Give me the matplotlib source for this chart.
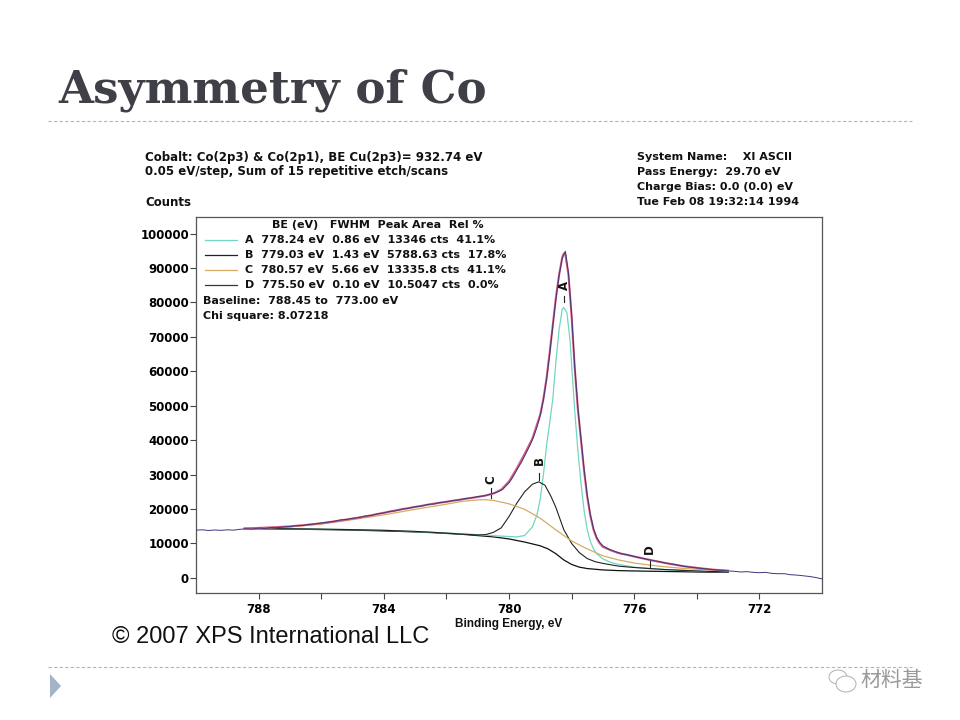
import numpy as np
import matplotlib.pyplot as plt
from matplotlib.ticker import MultipleLocator, FixedLocator
from matplotlib.patches import Polygon, Ellipse

# raw spectrum (binding energy, counts)
raw_be = [790.0, 789.8, 789.6, 789.4, 789.2, 789.0, 788.8, 788.6, 788.4, 788.2,
          788.0, 787.8, 787.6, 787.4, 787.2, 787.0, 786.8, 786.6, 786.4, 786.2,
          786.0, 785.8, 785.6, 785.4, 785.2, 785.0, 784.8, 784.6, 784.4, 784.2,
          784.0, 783.8, 783.6, 783.4, 783.2, 783.0, 782.8, 782.6, 782.4, 782.2,
          782.0, 781.8, 781.6, 781.4, 781.2, 781.0, 780.8, 780.6, 780.4, 780.2,
          780.0, 779.9, 779.8, 779.7, 779.6, 779.5, 779.4, 779.3, 779.2, 779.1,
          779.0, 778.9, 778.8, 778.7, 778.6, 778.5, 778.4, 778.3, 778.2, 778.1,
          778.0, 777.9, 777.8, 777.7, 777.6, 777.5, 777.4, 777.3, 777.2, 777.1,
          777.0, 776.8, 776.6, 776.4, 776.2, 776.0, 775.8, 775.6, 775.4, 775.2,
          775.0, 774.8, 774.6, 774.4, 774.2, 774.0, 773.8, 773.6, 773.4, 773.2,
          773.0, 772.8, 772.6, 772.4, 772.2, 772.0, 771.8, 771.6, 771.4, 771.2,
          771.0, 770.8, 770.6, 770.4, 770.2, 770.0]
raw_counts = [13850, 13950, 13750, 13900, 13800, 13950, 13850, 14100, 14250, 14150,
              14450, 14350, 14600, 14550, 14800, 14900, 15150, 15200, 15500, 15650,
              15950, 16150, 16400, 16800, 16950, 17300, 17500, 17950, 18100, 18600,
              18850, 19300, 19500, 19950, 20200, 20650, 20800, 21300, 21450, 21900,
              22050, 22450, 22600, 23050, 23200, 23600, 23800, 24300, 24800, 25700,
              27600, 28900, 30500, 32100, 33600, 35400, 37200, 39100, 41300, 44000,
              47200, 51800, 57600, 65000, 73200, 81000, 87800, 92800, 94900, 88500,
              76500, 61500, 49500, 40500, 31500, 24000, 18400, 14300, 11800, 10300,
              9300, 8300, 7600, 7000, 6700, 6200, 5800, 5400, 5000, 4700,
              4300, 4000, 3700, 3300, 3100, 2900, 2700, 2500, 2300, 2200,
              2000, 1900, 1700, 1800, 1600, 1500, 1600, 1300, 1200, 1200,
              900, 800, 600, 400, 100, -300]

# fitted envelope
fit_be = [788.45, 788.0, 787.5, 787.0, 786.5, 786.0, 785.5, 785.0, 784.5, 784.0,
          783.5, 783.0, 782.5, 782.0, 781.5, 781.0, 780.75, 780.5, 780.25, 780.0,
          779.75, 779.5, 779.25, 779.0, 778.9, 778.8, 778.7, 778.6, 778.5, 778.4,
          778.3, 778.25, 778.2, 778.1, 778.0, 777.9, 777.8, 777.7, 777.6, 777.5,
          777.4, 777.3, 777.2, 777.1, 777.0, 776.75, 776.5, 776.0, 775.5, 775.0,
          774.5, 774.0, 773.5, 773.0]
fit_counts = [14350, 14500, 14700, 14950, 15350, 15850, 16500, 17200, 18000, 18900,
              19800, 20600, 21400, 22100, 22800, 23500, 23900, 24500, 25600, 28000,
              31800, 36000, 40500, 47500, 52000, 58000, 65500, 73500, 81500, 88000,
              93000, 94200, 94000, 88000, 76000, 61000, 49000, 40000, 31000, 23500,
              18000, 14000, 11500, 10000, 9000, 8000, 7200, 6200, 5200, 4300,
              3500, 2900, 2400, 2100]

# Shirley baseline
bg_be = [788.45, 787.5, 786.5, 785.5, 784.5, 783.5, 782.5, 781.5, 780.5, 780.0,
         779.5, 779.0, 778.75, 778.5, 778.25, 778.0, 777.75, 777.5, 777.0, 776.5,
         776.0, 775.0, 774.0, 773.0]
bg_counts = [14300, 14200, 14100, 13950, 13750, 13500, 13150, 12650, 11900, 11300,
             10400, 9300, 8400, 7000, 5200, 3900, 3100, 2700, 2300, 2100,
             2000, 1850, 1700, 1600]

# component A
a_be = [788.45, 786.0, 784.0, 782.5, 781.5, 780.5, 780.0, 779.75, 779.5, 779.25,
        779.1, 779.0, 778.9, 778.8, 778.7, 778.6, 778.5, 778.4, 778.3, 778.25,
        778.15, 778.05, 778.0, 777.9, 777.8, 777.7, 777.6, 777.5, 777.4, 777.3,
        777.2, 777.0, 776.75, 776.5, 776.0, 775.5, 775.0, 774.0, 773.0]
a_counts = [14350, 14150, 13850, 13250, 12800, 12250, 12000, 11900, 12300, 14800,
            18500, 23000, 30000, 38500, 45000, 52000, 63000, 72000, 78000, 78500,
            77000, 69000, 62000, 48500, 37000, 27500, 19500, 14000, 10500, 8400,
            7000, 5500, 4500, 3900, 3100, 2700, 2400, 2000, 1700]

# component B
b_be = [788.45, 787.0, 786.0, 785.0, 784.0, 783.0, 782.0, 781.5, 781.0, 780.75,
        780.5, 780.25, 780.0, 779.75, 779.5, 779.25, 779.05, 778.85, 778.65, 778.5,
        778.25, 778.0, 777.75, 777.5, 777.25, 777.0, 776.5, 776.0, 775.5, 775.0,
        774.0, 773.0]
b_counts = [14350, 14250, 14150, 14000, 13800, 13500, 13000, 12700, 12450, 12550,
            13200, 14500, 17800, 21700, 25000, 27200, 27900, 26900, 23500, 20400,
            14000, 10000, 7300, 5600, 4700, 4200, 3400, 3000, 2700, 2400,
            2000, 1700]

# component C
c_be = [788.45, 788.0, 787.0, 786.0, 785.0, 784.0, 783.0, 782.0, 781.5, 781.0,
        780.75, 780.5, 780.0, 779.5, 779.0, 778.5, 778.0, 777.5, 777.0, 776.5,
        776.0, 775.5, 775.0, 774.5, 774.0, 773.5, 773.0]
c_counts = [14300, 14400, 14800, 15600, 16900, 18300, 19900, 21400, 22200, 22650,
            22700, 22500, 21500, 19900, 17300, 13900, 10700, 8400, 6400, 5200,
            4300, 3700, 3200, 2800, 2500, 2250, 2100]

peak_names = ['A', 'B', 'C', 'D']
peak_be = [778.24, 779.03, 780.57, 775.50]
peak_fwhm = ['0.86', '1.43', '5.66', '0.10']
peak_area = ['13346', '5788.63', '13335.8', '10.5047']
peak_rel = ['41.1%', '17.8%', '41.1%', '0.0%']
peak_colors = ['#72d6c2', '#222222', '#d9aa66', '#333344']
label_y = [85000, 34000, 28500, 8200]
mark_top = [82000, 30500, 26000, 5600]
mark_bot = [80000, 28500, 23200, 3000]

W, H = 960, 720
def px(x, y):
    return x / W, 1 - y / H

fig = plt.figure(figsize=(9.6, 7.2), dpi=100)
fig.patch.set_facecolor('white')

bold = dict(family='DejaVu Sans', fontweight='bold', color='#111111')
bold_ar = dict(family='Liberation Sans', fontweight='bold', color='#111111')

# title and slide decorations
fig.text(*px(58, 90), 'Asymmetry of Co', family='DejaVu Serif', fontweight='bold',
         fontsize=32.5, color='#3f3f48', va='center', ha='left')
for yy in (121, 667):
    fig.add_artist(plt.Line2D([48 / W, 912 / W], [1 - yy / H] * 2, color='#b5b5b5',
                              lw=0.8, ls=(0, (3, 2))))
fig.add_artist(Polygon([px(50, 674), px(50, 698), px(61, 686)], closed=True,
                       facecolor='#a4b4c8', edgecolor='none'))

# header text
fig.text(*px(145, 157), 'Cobalt: Co(2p3) & Co(2p1), BE Cu(2p3)= 932.74 eV', fontsize=8.5, va='center', **bold)
fig.text(*px(145, 172), '0.05 eV/step, Sum of 15 repetitive etch/scans', fontsize=8.5, va='center', **bold)
fig.text(*px(145, 202), 'Counts', fontsize=8.5, va='center', **bold)
right_lines = ['System Name:    XI ASCII', 'Pass Energy:  29.70 eV',
               'Charge Bias: 0.0 (0.0) eV', 'Tue Feb 08 19:32:14 1994']
for i, s in enumerate(right_lines):
    fig.text(*px(637, 157 + 15 * i), s, fontsize=8, va='center', **bold)

ax = fig.add_axes([196 / W, 1 - 593 / H, 626 / W, 376 / H])
ax.plot(fit_be, fit_counts, color='#d25c80', lw=1.5, zorder=3)
ax.plot(raw_be, raw_counts, color='#40367a', lw=0.7, zorder=4)
ax.plot(bg_be, bg_counts, color='#111111', lw=0.9, zorder=2)
ax.plot(a_be, a_counts, color=peak_colors[0], lw=0.9, zorder=2)
ax.plot(b_be, b_counts, color=peak_colors[1], lw=0.8, zorder=2)
ax.plot(c_be, c_counts, color=peak_colors[2], lw=0.9, zorder=2)

for i in range(4):
    ax.plot([peak_be[i], peak_be[i]], [mark_bot[i], mark_top[i]], color='#222222', lw=0.8)
    ax.text(peak_be[i], label_y[i], peak_names[i], rotation=90, ha='center', va='center',
            fontsize=8.5, **bold)

ax.set_xlim(790, 770)
ax.set_ylim(-4400, 104800)
ax.xaxis.set_major_locator(FixedLocator([788, 784, 780, 776, 772]))
ax.xaxis.set_minor_locator(FixedLocator([786, 782, 778, 774]))
ax.yaxis.set_major_locator(MultipleLocator(10000))
ax.tick_params(which='both', direction='out', length=4, width=0.8, color='#444444')
for lab in ax.get_xticklabels() + ax.get_yticklabels():
    lab.set_fontfamily('DejaVu Sans')
    lab.set_fontweight('bold')
    lab.set_fontsize(8.5)
ax.tick_params(axis='y', pad=1)
ax.tick_params(axis='x', pad=3)
for sp in ax.spines.values():
    sp.set_color('#555555')
    sp.set_linewidth(0.9)
ax.set_xlabel('Binding Energy, eV', fontsize=8.5, labelpad=2, **bold_ar)

# fit legend inside the plot
fig.text(*px(272, 225), 'BE (eV)   FWHM  Peak Area  Rel %', fontsize=8, va='center', **bold)
for i in range(4):
    y = 240 + 15 * i
    fig.add_artist(plt.Line2D([205 / W, 237 / W], [1 - y / H] * 2, color=peak_colors[i], lw=0.9))
    row = '%s  %.2f eV  %s eV  %s cts  %s' % (peak_names[i], peak_be[i], peak_fwhm[i],
                                             peak_area[i], peak_rel[i])
    fig.text(*px(245, y), row, fontsize=8, va='center', **bold)
fig.text(*px(203, 301), 'Baseline:  788.45 to  773.00 eV', fontsize=8, va='center', **bold)
fig.text(*px(203, 316), 'Chi square: 8.07218', fontsize=8, va='center', **bold)

fig.text(*px(112, 637), '\u00a9 2007 XPS International LLC',
         family='Liberation Sans', fontsize=17, color='#111111', va='center')

# watermark
fig.add_artist(Ellipse(px(838, 677), 18 / W, 14 / H, fill=False, ec='#b0b0b0', lw=0.7))
fig.add_artist(Ellipse(px(846, 684), 20 / W, 16 / H, facecolor='white', ec='#b0b0b0', lw=0.7))
fig.text(*px(892, 680), '材料基', family=['Noto Sans CJK SC', 'DejaVu Sans'],
         fontsize=15, color='#9a9a9a', ha='center', va='center')

fig.savefig('out.png', dpi=100)
